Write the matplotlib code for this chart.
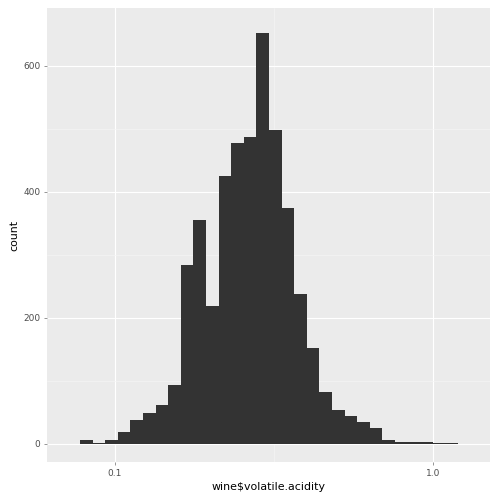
import numpy as np
import matplotlib.pyplot as plt

# histogram counts (30 log-spaced bins)
counts = [6, 2, 6, 19, 38, 49, 62, 94, 284, 355, 219, 425, 478, 487, 652,
          498, 375, 238, 152, 83, 54, 44, 35, 25, 6, 3, 3, 3, 2, 1]
lo, hi = 0.0776, 1.198
edges = np.logspace(np.log10(lo), np.log10(hi), len(counts) + 1)

fig = plt.figure(figsize=(7, 7), dpi=72)
ax = fig.add_axes([47/504, 42/504, 443/504, 454/504])
ax.set_facecolor('#EBEBEB')
ax.bar(edges[:-1], counts, width=np.diff(edges), align='edge', color='#333333', zorder=3)
ax.set_xscale('log')
ax.set_xlim(10**-1.214, 10**0.179)
ax.set_ylim(-28.6, 692)

ax.set_xticks([0.1, 1.0])
ax.set_xticklabels(['0.1', '1.0'])
ax.set_xticks([10**-0.5], minor=True)
ax.set_xticklabels([''], minor=True)
ax.set_yticks([0, 200, 400, 600])
ax.set_yticks([100, 300, 500], minor=True)
ax.grid(which='major', color='white', lw=1.1, zorder=0)
ax.grid(which='minor', color='#F5F5F5', lw=0.6, zorder=0)
for s in ax.spines.values():
    s.set_visible(False)
ax.tick_params(which='both', length=3, color='#7F7F7F', labelsize=9, labelcolor='#4D4D4D')
ax.tick_params(which='minor', length=0)
ax.set_xlabel('wine$volatile.acidity', fontsize=11)
ax.set_ylabel('count', fontsize=11)
fig.savefig('out.png', dpi=72)
